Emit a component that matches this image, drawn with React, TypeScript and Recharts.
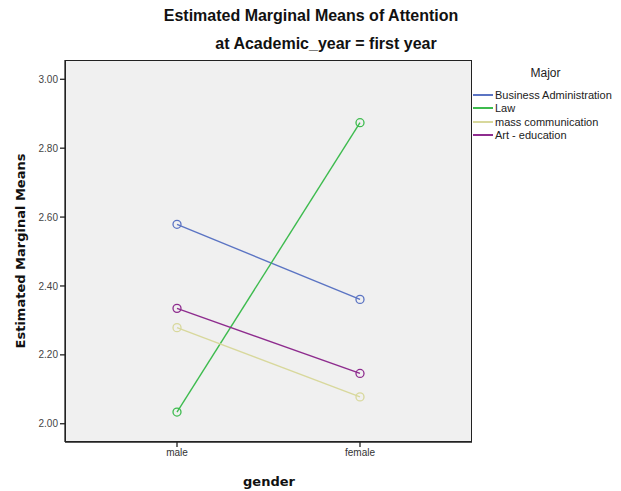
import { LineChart, Line, XAxis, YAxis, CartesianGrid } from 'recharts'

const genders = ['male', 'female']
const businessAdmin = [2.579, 2.361]
const law = [2.034, 2.874]
const massComm = [2.279, 2.078]
const artEducation = [2.335, 2.146]
const yTicks = [2.0, 2.2, 2.4, 2.6, 2.8, 3.0]

const series = [
  { key: 'business', name: 'Business Administration', values: businessAdmin, color: '#5b74c3' },
  { key: 'law', name: 'Law', values: law, color: '#3dbb4e' },
  { key: 'mass', name: 'mass communication', values: massComm, color: '#d8d89c' },
  { key: 'art', name: 'Art - education', values: artEducation, color: '#8e2c8e' },
]

const data = genders.map((g, i) => {
  const row: Record<string, string | number> = { gender: g }
  series.forEach(s => { row[s.key] = s.values[i] })
  return row
})

const font = '"Liberation Sans", Arial, sans-serif'
const domain: [number, number] = [1.947, 3.056]

export default function App() {
  return (
    <div style={{ position: 'absolute', left: 0, top: 0, width: 621, height: 491, background: '#fff', fontFamily: font }}>
      <div style={{ position: 'absolute', left: 311, top: 7, transform: 'translateX(-50%)', whiteSpace: 'nowrap', fontSize: 16, fontWeight: 'bold', color: '#111' }}>
        Estimated Marginal Means of Attention
      </div>
      <div style={{ position: 'absolute', left: 326, top: 35, transform: 'translateX(-50%)', whiteSpace: 'nowrap', fontSize: 16, fontWeight: 'bold', color: '#111' }}>
        at Academic_year = first year
      </div>

      <LineChart width={621} height={491} data={data} margin={{ top: 60, right: 149, left: 0, bottom: 0 }}>
        <CartesianGrid fill="#f0f0f0" fillOpacity={1} horizontal={false} vertical={false} />
        <XAxis
          dataKey="gender"
          type="category"
          scale="point"
          padding={{ left: 112, right: 112 }}
          height={49}
          axisLine={{ stroke: '#222', strokeWidth: 1.3 }}
          tickLine={{ stroke: '#222', strokeWidth: 1.3 }}
          tickSize={5}
          tick={{ fontSize: 10, fill: '#333', fontFamily: font }}
        />
        <YAxis
          type="number"
          domain={domain}
          ticks={yTicks}
          width={65}
          allowDataOverflow
          tickFormatter={(v: number) => v.toFixed(2)}
          axisLine={{ stroke: '#222', strokeWidth: 1.3 }}
          tickLine={{ stroke: '#222', strokeWidth: 1.3 }}
          tickSize={5}
          tick={{ fontSize: 10, fill: '#444', fontFamily: font }}
        />
        {series.map(s => (
          <Line
            key={s.key}
            type="linear"
            dataKey={s.key}
            name={s.name}
            stroke={s.color}
            strokeWidth={1.4}
            dot={{ r: 4, stroke: s.color, strokeWidth: 1.3, fill: 'none' }}
            isAnimationActive={false}
          />
        ))}
      </LineChart>

      {/* plot frame (top/right edges) */}
      <div style={{ position: 'absolute', left: 65, top: 60, width: 407, height: 382, boxSizing: 'border-box', border: '1.3px solid #222', pointerEvents: 'none' }} />

      <div style={{ position: 'absolute', left: 20, top: 251, transform: 'translate(-50%, -50%) rotate(-90deg)', whiteSpace: 'nowrap', fontFamily: '"DejaVu Sans", sans-serif', fontWeight: 'bold', fontSize: 13, color: '#111' }}>
        Estimated Marginal Means
      </div>
      <div style={{ position: 'absolute', left: 269, top: 481, transform: 'translate(-50%, -50%)', whiteSpace: 'nowrap', fontFamily: '"DejaVu Sans", sans-serif', fontWeight: 'bold', fontSize: 13, color: '#111' }}>
        gender
      </div>

      <div style={{ position: 'absolute', left: 473, top: 66, width: 148, fontSize: 11, color: '#222' }}>
        <div style={{ textAlign: 'center', fontSize: 12, marginBottom: 8, width: 145 }}>Major</div>
        {series.map(s => (
          <div key={s.key} style={{ display: 'flex', alignItems: 'center', height: 13.5 }}>
            <span style={{ display: 'inline-block', width: 20, height: 2, background: s.color, marginRight: 2 }} />
            <span style={{ whiteSpace: 'nowrap' }}>{s.name}</span>
          </div>
        ))}
      </div>
    </div>
  )
}
